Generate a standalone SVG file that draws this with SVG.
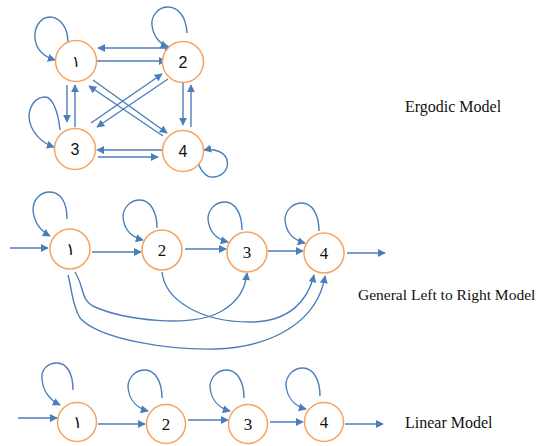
<svg xmlns="http://www.w3.org/2000/svg" width="539" height="446" viewBox="0 0 539 446">
<style>
.n{fill:#fff;stroke:#F5A35F;stroke-width:1.5}
.e{fill:none;stroke:#4A7EBB;stroke-width:1.4;marker-end:url(#ah)}
.d{fill:none;stroke:#4A7EBB;stroke-width:1.4;marker-end:url(#ah);marker-start:url(#ah)}
.ts{font-family:'Liberation Sans','DejaVu Sans',sans-serif;font-size:16px;fill:#111;text-anchor:middle}
.tr{font-family:'Liberation Serif','DejaVu Serif',serif;font-size:17px;fill:#111;text-anchor:middle}
.lb{font-family:'Liberation Serif','DejaVu Serif',serif;font-size:16px;fill:#111}
</style>
<defs>
<marker id="ah" viewBox="0 0 10 10" refX="9" refY="5" markerWidth="8" markerHeight="8" markerUnits="userSpaceOnUse" orient="auto-start-reverse">
<path d="M0,0 L10,5 L0,10 z" fill="#4A7EBB"/>
</marker>
</defs>
<rect width="539" height="446" fill="#fff"/>
<g id="connectors">
<path class="e" d="M68,43 C68,25 58,17 50,17 C40,17 34,28 35,38 C36,50 45,57 55,60"/>
<path class="e" d="M187,33 C186,15 177,7 168,7 C158,7 151,16 152,25 C153,36 160,44 168,47"/>
<path class="e" d="M60,130 C58,110 52,97 45,97 C35,97 29,107 29,117 C30,132 42,143 54,147"/>
<path class="e" d="M198,163 C202,173 208,178 214,177 C224,176 229,168 227,160 C225,152 214,148 204,150"/>
<path class="d" d="M98,48 L172,48"/>
<path class="e" d="M97,61 L166,61"/>
<path class="e" d="M91,123 L162,74"/>
<path class="e" d="M168,79 L97,127"/>
<path class="e" d="M93,80 L167,133"/>
<path class="e" d="M163,136 L89,86"/>
<path class="e" d="M67,85 L67,122"/>
<path class="e" d="M75,127 L75,85"/>
<path class="e" d="M183,83 L183,125"/>
<path class="e" d="M191,127 L191,85"/>
<path class="e" d="M163,150 L97,150"/>
<path class="e" d="M98,157 L158,157"/>
<path class="e" d="M10,248 L48,248"/>
<path class="e" d="M67,219 C67,200 59,192 50,192 C40,192 33,200 33,210 C34,222 41,231 50,236"/>
<path class="e" d="M157,228 C157,210 149,200 140,200 C130,200 123,208 123,217 C124,229 131,237 143,240"/>
<path class="e" d="M242,230 C242,212 234,202 225,202 C215,202 208,210 208,219 C209,231 216,239 228,242"/>
<path class="e" d="M319,231 C319,213 311,203 302,203 C292,203 285,211 285,220 C286,232 293,240 305,243"/>
<path class="e" d="M92,252 L141,252"/>
<path class="e" d="M185,249 L226,249"/>
<path class="e" d="M268,251 L303,251"/>
<path class="e" d="M347,253 L385,253"/>
<path class="e" d="M75,272 C85,288 80,300 95,307 C125,320 190,328 220,312 C238,302 245,290 247,273"/>
<path class="e" d="M162,272 C165,300 200,322 250,322 C290,322 308,300 314,275"/>
<path class="e" d="M68,275 C72,290 72,305 80,318 C100,340 170,350 215,349 C275,347 318,320 325,276"/>
<path class="e" d="M18,418 L57,418"/>
<path class="e" d="M73,390 C73,372 66,363 57,363 C47,363 41,370 42,379 C43,391 50,400 60,405"/>
<path class="e" d="M162,398 C162,380 154,370 145,370 C135,370 128,378 128,387 C129,399 136,408 148,411"/>
<path class="e" d="M244,398 C244,380 236,370 227,370 C217,370 210,378 210,387 C211,399 218,408 230,411"/>
<path class="e" d="M320,396 C320,378 312,368 303,368 C293,368 286,376 286,385 C287,397 294,406 306,409"/>
<path class="e" d="M98,424 L145,424"/>
<path class="e" d="M188,420 L228,420"/>
<path class="e" d="M270,422 L303,422"/>
<path class="e" d="M345,424 L383,424"/>
</g>
<g id="e1"><circle class="n" cx="76" cy="61" r="20.5"/><text class="ts" x="76" y="67">١</text></g>
<g id="e2"><circle class="n" cx="183" cy="62" r="20.5"/><text class="ts" x="183" y="68">2</text></g>
<g id="e3"><circle class="n" cx="75" cy="149" r="20.5"/><text class="ts" x="75" y="155">3</text></g>
<g id="e4"><circle class="n" cx="183" cy="151" r="20.5"/><text class="ts" x="183" y="157">4</text></g>
<g id="g1"><circle class="n" cx="70" cy="249" r="20"/><text class="tr" x="70" y="255">١</text></g>
<g id="g2"><circle class="n" cx="162" cy="250" r="20"/><text class="tr" x="162" y="256">2</text></g>
<g id="g3"><circle class="n" cx="247" cy="252" r="20"/><text class="tr" x="247" y="258">3</text></g>
<g id="g4"><circle class="n" cx="324" cy="253" r="20"/><text class="tr" x="324" y="259">4</text></g>
<g id="l1"><circle class="n" cx="77" cy="422" r="19.5"/><text class="tr" x="77" y="428">١</text></g>
<g id="l2"><circle class="n" cx="166" cy="424" r="19.5"/><text class="tr" x="166" y="430">2</text></g>
<g id="l3"><circle class="n" cx="248" cy="424" r="19.5"/><text class="tr" x="248" y="430">3</text></g>
<g id="l4"><circle class="n" cx="324" cy="422" r="19.5"/><text class="tr" x="324" y="428">4</text></g>
<text class="lb" x="405" y="112">Ergodic Model</text>
<text class="lb" x="358" y="300" style="font-size:15.5px">General Left to Right Model</text>
<text class="lb" x="405" y="428">Linear Model</text>
</svg>
